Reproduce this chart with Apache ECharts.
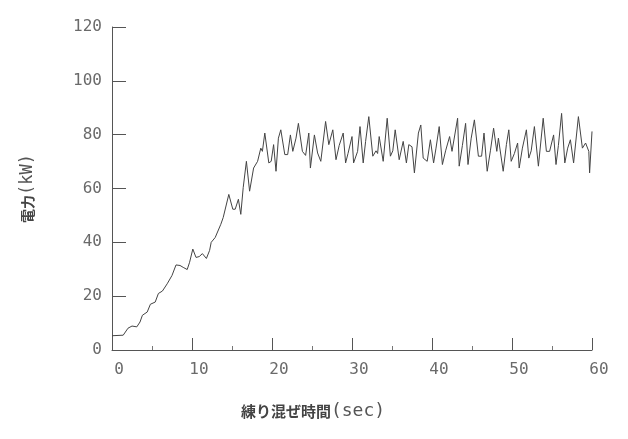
<!DOCTYPE html>
<html>
<head>
<meta charset="utf-8">
<script src="https://cdn.jsdelivr.net/npm/echarts@6/dist/echarts.min.js"></script>
<style>html,body{margin:0;padding:0;background:#fff}#c{width:628px;height:439px}</style>
</head>
<body>
<div id="c"></div>
<script>
const xTicks = [0, 10, 20, 30, 40, 50, 60];
const yTicks = [0, 20, 40, 60, 80, 100, 120];
const times = [0,1.4,2.0,2.5,3.1,3.5,3.8,4.4,4.8,5.4,5.8,6.3,6.9,7.5,8.0,8.5,8.9,9.4,9.7,10.1,10.5,10.9,11.3,11.8,12.2,12.4,12.9,13.6,13.9,14.6,15.1,15.4,15.8,16.1,16.4,16.8,17.2,17.7,18.2,18.6,18.8,19.1,19.6,19.9,20.2,20.5,20.8,21.1,21.6,21.96,22.3,22.6,23.0,23.3,23.8,24.2,24.6,24.8,25.3,25.7,26.1,26.7,27.1,27.6,28.0,28.4,28.9,29.2,29.5,30.0,30.2,30.7,31.0,31.4,31.7,32.1,32.6,33.0,33.2,33.4,33.9,34.4,34.8,35.1,35.4,35.9,36.4,36.8,37.1,37.5,37.8,38.3,38.6,38.9,39.4,39.8,40.2,40.5,40.9,41.3,41.7,42.2,42.5,43.2,43.4,43.8,44.2,44.5,44.9,45.3,45.8,46.2,46.5,46.9,47.3,47.7,48.1,48.3,48.9,49.3,49.6,49.9,50.3,50.7,50.9,51.3,51.8,52.1,52.4,52.8,53.3,53.9,54.3,54.7,55.2,55.5,55.8,56.2,56.6,56.96,57.3,57.7,58.3,58.8,59.2,59.6,59.7,60];
const power = [5.3,5.5,8.1,8.9,8.6,10.4,12.9,14.1,17,17.8,21,21.9,24.6,27.7,31.6,31.4,30.7,29.9,32.6,37.5,34.4,34.7,35.8,34,37,40,41.8,46.7,49.2,57.8,52.3,52.3,56,50.4,60.3,70.1,59,67.6,70.1,75,73.8,80.6,69.5,70.1,76.3,66.4,78.7,81.8,72.6,72.6,79.9,73.8,78.7,84.2,73.8,72.3,80.6,67.6,79.9,73.2,70.1,84.9,76.3,81.8,70.7,76,80.6,69.5,73,79.3,69.5,73.8,83,69.5,77.5,86.7,72,74,73,79.3,70.1,86.1,72,74,81.8,70.7,77.5,69.5,76.3,75.5,65.8,80.6,83.6,71.3,70.1,78.1,69.5,75,83,68.9,74,79.3,73.8,86.1,68.3,76,84.2,68.9,78.7,85.5,72,72,80.6,66.4,74,82.4,73.8,78.7,66.4,76.3,81.8,70.1,73,76.9,67.6,75,81.8,71.3,74,83,68.3,86.1,73.8,73.8,79.9,68.9,76,87.9,69.5,75,78.1,69.5,86.7,75,76.9,73.8,65.8,81.2];
const xName = '練り混ぜ時間';
const xUnit = '(sec)';
const yName = '電力';
const yUnit = '(kW)';

const chart = echarts.init(document.getElementById('c'), null, {renderer: 'canvas'});
const axisCol = '#555';
const labelStyle = {fontFamily: 'DejaVu Sans Mono', fontSize: 16, color: '#6a6a6a'};
chart.setOption({
  animation: false,
  backgroundColor: '#fff',
  grid: {left: 112, right: 36, top: 27, bottom: 89},
  xAxis: {
    type: 'value', min: xTicks[0], max: xTicks[xTicks.length - 1], interval: 10,
    axisLine: {show: true, lineStyle: {color: axisCol, width: 1}},
    axisTick: {show: true, inside: true, length: 12, lineStyle: {color: axisCol}},
    minorTick: {show: true, splitNumber: 2, length: 4, lineStyle: {color: '#777'}},
    splitLine: {show: false},
    axisLabel: Object.assign({margin: 12, padding: [0, 0, 0, 14]}, labelStyle),
    name: '{a|' + xName + '}{b|' + xUnit + '}',
    nameLocation: 'middle', nameGap: 52,
    nameTextStyle: {
      padding: [0, 78, 0, 0],
      rich: {
        a: {fontFamily: 'Noto Sans CJK JP', fontWeight: 'bold', fontSize: 15, color: '#444'},
        b: {fontFamily: 'DejaVu Sans Mono', fontSize: 18, color: '#555'}
      }
    }
  },
  yAxis: {
    type: 'value', min: yTicks[0], max: yTicks[yTicks.length - 1], interval: 20,
    axisLine: {show: true, lineStyle: {color: axisCol, width: 1}},
    axisTick: {show: true, inside: true, length: 14, lineStyle: {color: axisCol}},
    splitLine: {show: false},
    axisLabel: Object.assign({margin: 10}, labelStyle),
    name: '{a|' + yName + '}{b|' + yUnit + '}',
    nameLocation: 'middle', nameGap: 76, nameRotate: 90,
    nameTextStyle: {rich: {
      a: {fontFamily: 'Noto Sans CJK JP', fontWeight: 'bold', fontSize: 14, color: '#444'},
      b: {fontFamily: 'DejaVu Sans Mono', fontSize: 17, color: '#555'}
    }}
  },
  series: [{
    type: 'line',
    data: times.map((t, i) => [t, power[i]]),
    showSymbol: false,
    smooth: false,
    lineStyle: {color: '#444', width: 1}
  }]
});
</script>
</body>
</html>
